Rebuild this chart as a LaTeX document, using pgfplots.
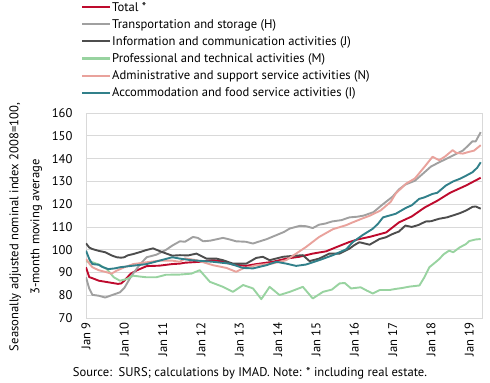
\documentclass[border=0pt]{standalone}
\usepackage{pgfplots}
\pgfplotsset{compat=1.18}
\usepackage{fontspec}
\setmainfont{PT Sans}
\definecolor{cTotal}{HTML}{BE0A2D}
\definecolor{cH}{HTML}{A0A0A0}
\definecolor{cJ}{HTML}{4D4D4D}
\definecolor{cM}{HTML}{98D3A0}
\definecolor{cN}{HTML}{E9A29C}
\definecolor{cI}{HTML}{31808A}
\definecolor{gridgray}{HTML}{D9D9D9}
\begin{document}
\begin{tikzpicture}
\begin{axis}[
  name=main,
  scale only axis, width=396pt, height=205pt,
  xmin=0, xmax=124, ymin=70, ymax=160,
  ytick={70,80,...,160}, xtick={0,12,...,120},
  xticklabels={Jan 9,Jan 10,Jan 11,Jan 12,Jan 13,Jan 14,Jan 15,Jan 16,Jan 17,Jan 18,Jan 19},
  xticklabel style={rotate=90, anchor=east, xshift=-1pt},
  yticklabel style={xshift=-10pt},
  ymajorgrids, grid style={gridgray, line width=0.8pt},
  axis line style={gridgray, line width=0.8pt},
  major tick length=0pt,
  tick label style={font=\fontsize{12.6}{15}\selectfont, text=black},
  /pgf/number format/assume math mode=true,
  ylabel={Seasonally adjusted nominal index 2008=100,\\[6pt]3-month moving average},
  ylabel style={align=center, font=\fontsize{12.6}{15}\selectfont, at={(ticklabel cs:0.444,3pt)}},
  legend style={at={(rel axis cs:0,1)}, anchor=south west, xshift=-4pt, yshift=13pt, draw=none, fill=none,
    font=\fontsize{12.6}{15}\selectfont, row sep=2.6pt, inner sep=0pt},
  legend cell align=left,
  legend image code/.code={\fill[#1, draw=none] (0pt,-1.05pt) rectangle (28pt,1.05pt);},
]
\addplot[color=cTotal, line width=1.9pt, line join=round] coordinates {(0,92.3) (1,88) (2,87.5) (4,86.4) (7,85.7) (10,85) (11,85.2) (12,86.4) (14,89.5) (16,91) (19,92.8) (23,93) (27,93.7) (29.4,93.9) (31,94.3) (35.6,94.7) (39.8,95.4) (42,95) (46,93.5) (50.2,92.9) (52,93.4) (54.4,93.9) (58.5,94.7) (62.7,96.1) (66.8,96.9) (71,98.3) (75.2,99.3) (79.4,101.7) (82.5,103.4) (85,104.5) (89,105.7) (94,107.6) (98,112) (102,114.6) (106,118.5) (110,121.5) (114,125) (119,128.2) (123.6,131.6)};
\addlegendentry{Total *}
\addplot[color=cH, line width=1.9pt, line join=round] coordinates {(0,87.9) (1,83) (2,80.2) (4,79.8) (6,79) (7,79.5) (9,80.5) (10.6,81.3) (12,83.2) (14,88) (15,90) (17,93.7) (19,96.7) (22,97.8) (25,99.9) (27,101.8) (29.4,103.7) (31,103.5) (33.5,105.6) (35,105.2) (36.7,103.7) (39,104) (42.9,105.2) (45,104.5) (47,103.7) (50,103.5) (52.3,102.7) (54,103.5) (56.5,104.6) (59.6,106.4) (62,107.8) (63.8,109.3) (67,110.5) (69,110.3) (71,109.5) (73,111) (75,111.5) (77,112.4) (80,113) (82.5,114.2) (85,114.5) (87,115) (90,116.5) (93,120) (96,123.3) (98,126.5) (100,128.6) (103,130.3) (106,134) (108,136.5) (110.6,138.4) (113,140) (115,141.4) (118,143.5) (119.5,145.5) (121,147.6) (122,147.5) (123.6,151.6)};
\addlegendentry{Transportation and storage (H)}
\addplot[color=cJ, line width=1.9pt, line join=round] coordinates {(0,102.8) (1,101) (2,100.3) (4,99.5) (6,98.9) (8,97.5) (9.6,96.7) (11,96.5) (12,96.7) (13,97.5) (14.8,98.1) (17,99) (19,99.9) (21,100.6) (22,100) (24,98.9) (27,97.4) (29.4,97.6) (32,97.5) (34.6,98.3) (37.7,96.1) (40.8,96.1) (42.9,95.4) (46,93.9) (50.2,93.9) (53.3,96.4) (55.4,96.9) (57.5,95.4) (61.7,96.9) (64.8,97.3) (67.9,97.6) (70,95) (73,96.1) (76.2,98.3) (79.4,98.3) (82.5,100.5) (84,102) (85.6,103.3) (88.8,102.2) (91.9,104.7) (94,105.5) (96,106.9) (98,108) (100,110.6) (102,110) (104,110.8) (106.4,112.4) (108,112.5) (110.6,113.6) (113,114.2) (114.8,115) (117,116) (119,117.2) (121,118.8) (122,119) (123.6,118)};
\addlegendentry{Information and communication activities (J)}
\addplot[color=cM, line width=1.9pt, line join=round] coordinates {(0,94.9) (2,94.5) (4,93.5) (6.5,91.5) (8.7,87.9) (10.6,86.4) (12.7,87.1) (14.8,88.6) (17,88.2) (19,87.9) (22,87.9) (25,89) (29.4,89.1) (33,89.5) (35.6,91) (38.8,85.9) (42.9,83.7) (46,81.5) (49.2,84.5) (52.3,83) (54.9,78.3) (57.5,83.7) (60.6,80.1) (63.8,81.5) (67.9,83.7) (71,78.6) (74.2,81.5) (77,82.5) (79.4,85.2) (81,85.4) (83,83) (86,83.5) (88,82) (89.8,80.8) (92,82.3) (95,82.3) (97,82.8) (99,83.2) (101.3,83.8) (104.4,84.3) (106,88) (107.5,92.3) (109,94) (110.6,95.9) (112,98) (113.7,99.6) (115,98.9) (117,101) (119,102.5) (120,103.8) (122,104.5) (123.6,104.7)};
\addlegendentry{Professional and technical activities (M)}
\addplot[color=cN, line width=1.9pt, line join=round] coordinates {(0,95.9) (1,94) (2,92.3) (4,91) (6.5,90.1) (8,89.5) (9.6,90.8) (12,92.3) (14.8,93.7) (19,94.5) (23,95.2) (27,95.2) (29.4,94.7) (31,96.2) (34.6,95.4) (39.8,93.2) (44,92) (47,90.3) (49.2,91.8) (53.3,93.2) (58.5,94) (62.7,95.4) (65.8,98.3) (68.9,101.2) (73,105.6) (77.3,109) (81.5,110.8) (83.5,112) (86.5,113.7) (89,115) (92.3,117.3) (95.4,121) (97,124.7) (100.2,129) (103,131.3) (106.4,137.1) (108.5,140.8) (110.6,139.3) (112.5,141) (114.8,143.7) (116,142.5) (118,142.2) (120,143) (121.5,143.5) (123.6,145.9)};
\addlegendentry{Administrative and support service activities (N)}
\addplot[color=cI, line width=1.9pt, line join=round] coordinates {(0,99.6) (1,96) (2,93.7) (4,93.4) (5,92.5) (7,91.5) (9,91.8) (10.6,92.3) (14.8,93) (19,93.7) (23,95.2) (27,96.7) (29.4,96.1) (33,95.4) (39.8,94.7) (45,93.9) (49.2,92) (52.3,91.8) (56.5,93.2) (59.6,94.7) (62.7,93.9) (65.8,92.9) (68.9,93.5) (73,95.4) (77.3,97.6) (81.5,100.2) (83.5,103.3) (86.7,106.5) (89.8,109.2) (91.5,111.5) (93,114.2) (95,115) (97,115.8) (100.2,118.4) (102,119.5) (104.3,122.3) (106,123) (108.5,124.5) (110,125) (112.7,128.2) (115,130) (117,131.1) (119,132.5) (121,134) (122.5,136) (123.6,138.4)};
\addlegendentry{Accommodation and food service activities (I)}
\end{axis}
\node[font=\fontsize{12.6}{15}\selectfont, anchor=base] at ([xshift=164pt,yshift=-58pt]main.south west) {Source:\ \ SURS; calculations by IMAD. Note: * including real estate.};
\path ([xshift=8pt]main.north east) -- ([xshift=8pt]main.south east);
\path ([xshift=-86pt]main.north west) -- ([xshift=-86pt]main.south west);
\end{tikzpicture}
\end{document}
